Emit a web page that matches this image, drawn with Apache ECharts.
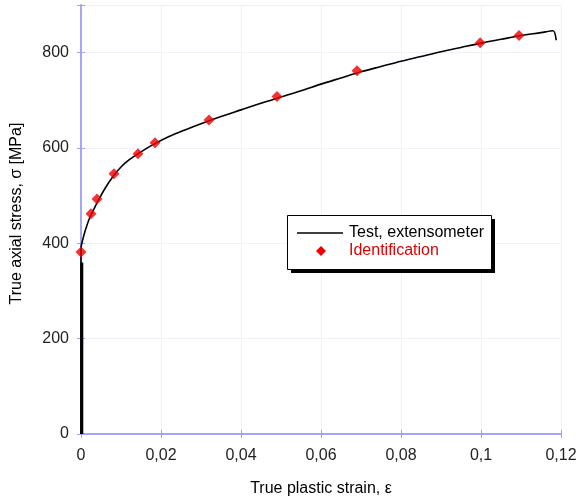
<!DOCTYPE html>
<html><head><meta charset="utf-8">
<script src="https://cdn.jsdelivr.net/npm/echarts@6/dist/echarts.min.js"></script>
<style>html,body{margin:0;padding:0;background:#fff}#c{width:576px;height:498px}</style>
</head><body><div id="c"></div>
<script>
// Test curve (true plastic strain, true stress MPa)
const testStrain = [0, 0, 0.0005, 0.001, 0.002, 0.003, 0.004, 0.006, 0.008, 0.010, 0.012, 0.015, 0.018, 0.022, 0.026, 0.030, 0.035, 0.040, 0.045, 0.050, 0.055, 0.060, 0.065, 0.070, 0.075, 0.080, 0.085, 0.090, 0.095, 0.100, 0.105, 0.110, 0.115, 0.118, 0.1188];
const testStress = [0, 390, 410, 425, 450, 468, 485, 515, 540, 560, 575, 592, 607, 624, 638, 651, 666, 680, 694, 707, 720, 734, 747, 760, 771, 782, 792, 802, 811, 820, 828, 836, 842, 846, 826];
// thick elastic segment near zero strain
const elasticStrain = [0.0002, 0.0002];
const elasticStress = [0, 360];
// Identification points
const idStrain = [0, 0.0025, 0.004, 0.00825, 0.01425, 0.0185, 0.032, 0.049, 0.069, 0.0998, 0.1095];
const idStress = [382, 462, 493, 546, 588, 611, 659, 708, 762, 821, 836];
const legendNames = ['Test, extensometer', 'Identification'];

const chart = echarts.init(document.getElementById('c'));
const frame = '#a0a0f4';
const font = 'Liberation Sans, Arial, sans-serif';
const zip = (a, b) => a.map((v, i) => [v, b[i]]);
chart.setOption({
  animation: false,
  grid: { left: 81, right: 15, top: 5, bottom: 64, containLabel: false, outerBoundsMode: 'none' },
  xAxis: [{
    type: 'value', min: 0, max: 0.12, interval: 0.02,
    name: 'True plastic strain, ε', nameLocation: 'middle', nameGap: 47,
    nameTextStyle: { fontFamily: font, fontSize: 16, color: '#000' },
    axisLine: { lineStyle: { color: frame, width: 1.5 } },
    axisTick: { inside: true, length: 4, lineStyle: { color: frame } },
    splitLine: { show: true, lineStyle: { color: '#f0f0fb', width: 1 } },
    axisLabel: { fontFamily: font, fontSize: 16, color: '#222', margin: 14,
      formatter: v => String(+v.toFixed(3)).replace('.', ',') }
  }, {
    type: 'value', min: 0, max: 0.12, interval: 0.02, position: 'top',
    axisLine: { lineStyle: { color: frame, width: 1.5 } },
    axisTick: { inside: true, length: 4, lineStyle: { color: frame } },
    axisLabel: { show: false }, splitLine: { show: false }
  }],
  yAxis: [{
    type: 'value', min: 0, max: 900, interval: 200,
    name: 'True axial stress, σ [MPa]', nameLocation: 'middle', nameGap: 56,
    nameTextStyle: { fontFamily: font, fontSize: 16, color: '#000', padding: [0, 0, 0, 12] },
    axisLine: { show: true, lineStyle: { color: frame, width: 1.5 } },
    axisTick: { show: true, inside: true, length: 4, lineStyle: { color: frame } },
    splitLine: { show: true, lineStyle: { color: '#f0f0fb', width: 1 } },
    axisLabel: { fontFamily: font, fontSize: 16, color: '#222', margin: 12,
      formatter: v => (v > 800 ? '' : String(v)) }
  }, {
    type: 'value', min: 0, max: 900, interval: 200, position: 'right',
    axisLine: { show: true, lineStyle: { color: frame, width: 1.5 } },
    axisTick: { show: true, inside: true, length: 4, lineStyle: { color: frame } },
    axisLabel: { show: false }, splitLine: { show: false }
  }],
  graphic: [
    { type: 'rect', shape: { x: 291, y: 219, width: 204, height: 54 }, style: { fill: '#000' }, z: 10 },
    { type: 'rect', shape: { x: 287.5, y: 215.5, width: 204, height: 54 }, style: { fill: '#fff', stroke: '#000', lineWidth: 1 }, z: 11 },
    { type: 'line', shape: { x1: 297, y1: 233, x2: 343, y2: 233 }, style: { stroke: '#000', lineWidth: 1.5 }, z: 12 },
    { type: 'polygon', shape: { points: [[321, 246], [326, 251], [321, 256], [316, 251]] }, style: { fill: '#ee0000' }, z: 12 },
    { type: 'text', x: 349, y: 233, style: { text: legendNames[0], font: '16px ' + font, fill: '#000', verticalAlign: 'middle' }, z: 12 },
    { type: 'text', x: 349, y: 251, style: { text: legendNames[1], font: '16px ' + font, fill: '#e00000', verticalAlign: 'middle' }, z: 12 }
  ],
  series: [{
    name: legendNames[0], type: 'line', data: zip(testStrain, testStress),
    showSymbol: false, smooth: 0.3, lineStyle: { color: '#000', width: 1.6 }, z: 2
  }, {
    name: 'elastic', type: 'line', data: zip(elasticStrain, elasticStress),
    showSymbol: false, lineStyle: { color: '#000', width: 3 }, z: 2
  }, {
    name: legendNames[1], type: 'scatter', data: zip(idStrain, idStress),
    symbol: 'diamond', symbolSize: 11, itemStyle: { color: '#ee0000' }, z: 3
  }]
});
</script></body></html>
